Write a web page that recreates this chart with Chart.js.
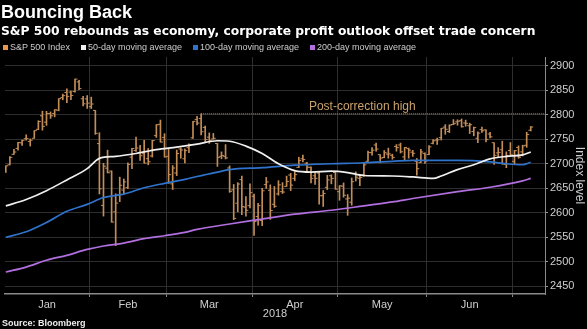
<!DOCTYPE html>
<html>
<head>
<meta charset="utf-8">
<script src="https://cdn.jsdelivr.net/npm/chart.js@4.4.1/dist/chart.umd.min.js"></script>
<style>
  html, body { margin: 0; padding: 0; background: #000; }
  #wrap { position: relative; width: 587px; height: 329px; overflow: hidden; color: #fff;
          font-family: "Liberation Sans", Arial, sans-serif; }
  #chart { position: absolute; left: 0; top: 0; }
  #title { position: absolute; left: 1px; top: 2px; font-size: 18px; font-weight: bold; white-space: nowrap; }
  #sub { position: absolute; left: 1px; top: 24px; font-family: "DejaVu Sans", sans-serif; font-size: 12.3px; font-weight: bold; white-space: nowrap; }
  #legend { position: absolute; left: 3px; top: 42px; display: flex; font-size: 9px; color: #ccc; white-space: nowrap; }
  #legend span.item { display: flex; align-items: center; margin-right: 11px; }
  #legend i { display: inline-block; width: 5px; height: 5px; margin-right: 2px; }
  #source { position: absolute; left: 2px; top: 318px; font-size: 9px; font-weight: bold; color: #eee; }
</style>
</head>
<body>
<div id="wrap">
  <canvas id="chart" width="587" height="329"></canvas>
  <div id="title">Bouncing Back</div>
  <div id="sub">S&amp;P 500 rebounds as economy, corporate profit outlook offset trade concern</div>
  <div id="legend"></div>
  <div id="source">Source: Bloomberg</div>
</div>
<script>
// S&P 500 daily bars, Jan 2 - Jul 9 2018 (one entry per trading day)
const open = [
  2683.7, 2697.9, 2719.3, 2731.3, 2742.7, 2751.2, 2745.6, 2752.0, 2770.2, 2798.0,
  2785.0, 2802.4, 2802.6, 2809.2, 2835.1, 2845.4, 2846.3, 2847.5, 2867.2, 2832.7, 2832.4,
  2816.5, 2808.9, 2741.1, 2614.8, 2691.0, 2685.0, 2601.8, 2636.8, 2646.3, 2651.2,
  2713.5, 2727.1, 2723.0, 2720.5, 2710.4, 2715.8, 2757.4, 2780.5, 2753.8,
  2715.2, 2658.9, 2681.1, 2730.2, 2710.2, 2732.8, 2752.9, 2790.5, 2792.3, 2774.1,
  2754.3, 2750.6, 2741.4, 2715.1, 2715.0, 2691.4, 2646.7, 2619.4, 2667.6, 2611.3, 2614.4,
  2633.5, 2592.2, 2584.0, 2657.4, 2645.8, 2617.2, 2638.4, 2643.0, 2653.8, 2676.9,
  2670.1, 2692.7, 2710.1, 2701.2, 2692.6, 2675.4, 2680.8, 2634.9, 2651.7, 2675.5, 2682.1,
  2643.0, 2654.2, 2628.1, 2621.5, 2680.3, 2670.3, 2678.1, 2705.0, 2722.7, 2738.3, 2718.6,
  2712.6, 2719.7, 2717.4, 2735.4, 2738.3, 2714.0, 2730.9, 2723.6, 2705.1, 2702.4, 2721.0,
  2718.7, 2741.7, 2748.5, 2753.3, 2774.8, 2765.8, 2780.2, 2785.6, 2787.9, 2783.2,
  2777.8, 2765.8, 2752.0, 2769.7, 2769.3, 2760.8, 2742.9, 2722.1, 2728.5, 2698.7, 2727.1,
  2705.0, 2733.3, 2724.2, 2737.7, 2768.5
];
const high = [
  2695.9, 2714.4, 2729.3, 2743.5, 2748.5, 2759.1, 2750.8, 2767.6, 2787.9, 2807.5,
  2807.0, 2805.8, 2810.3, 2833.0, 2842.2, 2853.0, 2848.6, 2872.9, 2870.6, 2837.8, 2839.3,
  2836.0, 2808.9, 2763.4, 2701.0, 2727.7, 2685.3, 2638.7, 2672.6, 2668.8, 2702.1,
  2731.5, 2754.4, 2737.6, 2747.8, 2731.3, 2747.8, 2780.0, 2789.2, 2761.5,
  2730.9, 2696.3, 2728.1, 2732.1, 2730.6, 2740.5, 2786.6, 2797.0, 2801.9, 2777.1,
  2763.0, 2761.9, 2741.4, 2724.2, 2739.1, 2695.7, 2657.7, 2661.4, 2674.8, 2632.7, 2659.1,
  2638.3, 2619.1, 2649.9, 2672.1, 2656.9, 2653.6, 2665.5, 2661.4, 2674.7, 2680.3,
  2686.5, 2713.3, 2717.5, 2702.8, 2693.9, 2682.9, 2683.6, 2645.3, 2676.5, 2677.4, 2682.9,
  2655.3, 2660.9, 2637.1, 2670.9, 2683.4, 2676.3, 2701.3, 2726.1, 2732.9, 2742.1, 2718.6,
  2727.0, 2732.0, 2719.5, 2739.2, 2742.2, 2733.3, 2732.0, 2727.4, 2710.7, 2729.3, 2722.5,
  2736.9, 2749.2, 2752.6, 2772.4, 2779.9, 2779.4, 2790.2, 2789.8, 2791.5, 2789.1,
  2782.8, 2775.0, 2765.1, 2774.9, 2769.3, 2764.2, 2742.9, 2732.9, 2746.1, 2724.3, 2743.3,
  2727.3, 2736.6, 2737.8, 2764.4, 2776.0
];
const low = [
  2682.4, 2697.8, 2719.1, 2727.9, 2737.6, 2747.9, 2736.1, 2752.0, 2769.6, 2768.6,
  2778.4, 2792.6, 2795.8, 2808.1, 2830.6, 2824.8, 2830.9, 2846.2, 2851.5, 2818.3, 2813.0,
  2812.7, 2760.0, 2638.2, 2593.1, 2681.3, 2580.6, 2532.7, 2622.5, 2637.1, 2648.9,
  2689.8, 2725.1, 2706.8, 2701.3, 2697.8, 2713.7, 2753.8, 2744.2, 2713.5,
  2659.7, 2647.3, 2675.8, 2711.3, 2701.7, 2722.7, 2751.5, 2779.3, 2758.7, 2744.4,
  2741.5, 2750.0, 2694.6, 2710.1, 2709.8, 2641.6, 2585.9, 2601.8, 2596.1, 2593.1, 2609.7,
  2553.8, 2574.6, 2573.6, 2649.6, 2586.3, 2610.8, 2635.8, 2639.3, 2653.8, 2645.1,
  2665.2, 2692.1, 2703.6, 2681.9, 2660.6, 2658.0, 2617.3, 2612.7, 2647.2, 2659.0, 2648.0,
  2625.4, 2631.7, 2594.6, 2615.3, 2664.7, 2655.2, 2674.1, 2704.5, 2717.5, 2725.5, 2701.9,
  2712.2, 2711.4, 2709.2, 2725.7, 2721.9, 2707.4, 2711.4, 2715.0, 2676.8, 2702.4, 2700.7,
  2718.7, 2740.5, 2739.5, 2748.5, 2760.2, 2763.6, 2779.9, 2778.8, 2774.7, 2776.5,
  2761.7, 2757.1, 2743.2, 2763.9, 2744.4, 2752.7, 2698.7, 2712.5, 2699.0, 2692.0, 2718.0,
  2699.0, 2711.2, 2716.0, 2733.5, 2767.0
];
const close = [
  2695.8, 2713.1, 2724.0, 2743.2, 2747.7, 2751.3, 2748.2, 2767.6, 2786.2, 2776.4,
  2802.6, 2798.0, 2810.3, 2833.0, 2839.1, 2837.5, 2839.3, 2872.9, 2853.5, 2822.4, 2823.8,
  2822.0, 2762.1, 2648.9, 2695.1, 2681.7, 2581.0, 2619.6, 2656.0, 2662.9, 2698.6,
  2731.2, 2732.2, 2716.3, 2701.3, 2704.0, 2747.3, 2779.6, 2744.3, 2713.8,
  2677.7, 2691.3, 2720.9, 2728.1, 2726.8, 2739.0, 2786.6, 2783.0, 2765.3, 2749.5,
  2747.3, 2752.0, 2712.9, 2716.9, 2711.9, 2643.7, 2588.3, 2658.6, 2612.6, 2605.0, 2640.9,
  2581.9, 2614.5, 2644.7, 2662.8, 2604.5, 2613.2, 2656.9, 2642.2, 2664.0, 2656.3,
  2677.8, 2706.4, 2708.6, 2693.1, 2670.1, 2670.3, 2634.6, 2639.4, 2666.9, 2669.9, 2648.1,
  2654.8, 2635.7, 2629.7, 2663.4, 2672.6, 2671.9, 2697.8, 2723.1, 2727.7, 2730.1, 2711.5,
  2722.5, 2720.1, 2713.0, 2733.0, 2724.4, 2733.3, 2727.8, 2721.3, 2689.9, 2724.0, 2705.3,
  2734.6, 2746.9, 2748.8, 2772.4, 2770.4, 2779.0, 2782.0, 2786.9, 2775.6, 2782.5,
  2779.7, 2773.8, 2762.6, 2767.3, 2749.8, 2754.9, 2717.1, 2723.1, 2699.6, 2716.3, 2718.4,
  2726.7, 2713.2, 2736.6, 2759.8, 2775.0
];

// first trading day (index) of each month shown
const monthNames = ['Jan', 'Feb', 'Mar', 'Apr', 'May', 'Jun', 'Jul'];
const monthStart = [0, 21, 40, 61, 82, 104, 125];

// moving averages at sample trading days
const ma50Days = [0, 5, 10, 15, 20, 23, 27, 32, 37, 42, 47, 52, 55, 59, 63, 67, 71, 75, 80, 84, 88, 95, 100, 105, 107, 111, 115, 119, 123, 127, 129];
const ma50 = [2614, 2627, 2645, 2667, 2690, 2711, 2715, 2721, 2729, 2734, 2740, 2747, 2746, 2736, 2721, 2700, 2686, 2683, 2685, 2682, 2676, 2675, 2673, 2670, 2675, 2688, 2698, 2710, 2715, 2718, 2724];
const ma100Days = [0, 5, 10, 15, 20, 24, 29, 34, 39, 44, 47, 52, 55, 63, 71, 80, 88, 95, 100, 111, 119, 123, 127, 129];
const ma100 = [2550, 2561, 2580, 2603, 2617, 2631, 2638, 2651, 2660, 2668, 2674, 2683, 2688, 2692, 2697, 2700, 2702, 2705, 2707, 2707, 2704, 2700, 2698, 2703];
const ma200Days = [0, 5, 10, 15, 20, 24, 29, 34, 39, 44, 47, 55, 63, 71, 80, 88, 95, 100, 111, 119, 127, 129];
const ma200 = [2479, 2489, 2503, 2513, 2525, 2532, 2538, 2547, 2553, 2560, 2566, 2577, 2587, 2597, 2605, 2614, 2622, 2629, 2643, 2652, 2665, 2670];

const yTicks = [2450, 2500, 2550, 2600, 2650, 2700, 2750, 2800, 2850, 2900];
const highMarkDay = 48;      // Mar 13
const highMark = 2801.9;
const noteText = 'Post-correction high';

const seriesNames = ['S&P 500 Index', '50-day moving average', '100-day moving average', '200-day moving average'];
const seriesColors = ['#e8974f', '#f0f0f0', '#2f73cc', '#b26fe0'];

const barColor = '#c38d58';
const xMin = -0.2, xMax = 132.5;
const font = '"Liberation Sans", Arial, sans-serif';

// legend (html)
const legend = document.getElementById('legend');
seriesNames.forEach((n, i) => {
  legend.insertAdjacentHTML('beforeend',
    `<span class="item"><i style="background:${seriesColors[i]}"></i>${n}</span>`);
});

const days = close.map((_, i) => i);
const boundaries = monthStart.slice(1).map(d => d - 0.5);
const centers = [];
const centerNames = {};
for (let m = 0; m < monthStart.length - 1; m++) {
  const a = m === 0 ? xMin : monthStart[m] - 0.5;
  const b = monthStart[m + 1] - 0.5;
  const c = (a + b) / 2;
  centers.push(c);
  centerNames[c] = monthNames[m];
}
const isBoundary = v => boundaries.includes(v);

const notePlugin = {
  id: 'note',
  afterDatasetsDraw(chart) {
    const { ctx, scales: { x, y } } = chart;
    ctx.save();
    ctx.fillStyle = '#caa26c';
    ctx.font = '12px ' + font;
    ctx.textAlign = 'center';
    ctx.textBaseline = 'alphabetic';
    ctx.fillText(noteText, x.getPixelForValue(87.6), y.getPixelForValue(highMark) - 4);
    ctx.restore();
  }
};

new Chart(document.getElementById('chart'), {
  type: 'line',
  data: {
    datasets: [
      {
        label: seriesNames[1], order: 1,
        data: ma50Days.map((d, i) => ({ x: d, y: ma50[i] })),
        borderColor: seriesColors[1], borderWidth: 1.7, pointRadius: 0,
        cubicInterpolationMode: 'monotone'
      },
      {
        label: seriesNames[2], order: 2,
        data: ma100Days.map((d, i) => ({ x: d, y: ma100[i] })),
        borderColor: seriesColors[2], borderWidth: 1.7, pointRadius: 0,
        cubicInterpolationMode: 'monotone'
      },
      {
        label: seriesNames[3], order: 3,
        data: ma200Days.map((d, i) => ({ x: d, y: ma200[i] })),
        borderColor: seriesColors[3], borderWidth: 1.7, pointRadius: 0,
        cubicInterpolationMode: 'monotone'
      },
      {
        label: 'high', order: 4,
        data: [{ x: highMarkDay, y: highMark }, { x: xMax, y: highMark }],
        borderColor: '#b8915e', borderWidth: 1, borderDash: [1, 1], pointRadius: 0
      },
      {
        type: 'bar', label: seriesNames[0], order: 5,
        data: days.map(i => ({ x: i, y: [low[i], high[i]] })),
        backgroundColor: barColor, barThickness: 1, grouped: false
      },
      {
        label: 'open', order: 6, showLine: false,
        data: days.map(i => ({ x: i - 0.3, y: open[i] })),
        pointStyle: 'line', pointRadius: 1.2, pointBorderWidth: 1,
        pointBorderColor: barColor, borderColor: barColor
      },
      {
        label: 'close', order: 7, showLine: false,
        data: days.map(i => ({ x: i + 0.3, y: close[i] })),
        pointStyle: 'line', pointRadius: 1.2, pointBorderWidth: 1,
        pointBorderColor: barColor, borderColor: barColor
      }
    ]
  },
  options: {
    responsive: false,
    animation: false,
    events: [],
    layout: { padding: { top: 57, left: 0, right: 0, bottom: 8 } },
    plugins: { legend: { display: false }, tooltip: { enabled: false } },
    scales: {
      x: {
        type: 'linear', min: xMin, max: xMax, offset: false,
        afterBuildTicks: s => {
          s.ticks = boundaries.concat(centers).sort((a, b) => a - b).map(v => ({ value: v }));
        },
        afterFit: s => { s.height = 27; },
        grid: {
          offset: false, drawTicks: true, tickLength: 3,
          color: c => (c.tick && isBoundary(c.tick.value)) ? '#2e2e2e' : 'rgba(0,0,0,0)',
          tickColor: c => (c.tick && isBoundary(c.tick.value)) ? '#888' : 'rgba(0,0,0,0)'
        },
        border: { display: true, color: '#8a8a8a', width: 1.5 },
        ticks: {
          autoSkip: false, maxRotation: 0, padding: 1, color: '#cfcfcf',
          font: { size: 11, family: font },
          callback: v => centerNames[v] || ''
        },
        title: { display: true, text: '2018', color: '#cfcfcf', font: { size: 11, family: font }, padding: { top: -2, bottom: 0 } }
      },
      y: {
        type: 'linear', position: 'right', min: 2434, max: 2918,
        afterBuildTicks: s => { s.ticks = yTicks.map(v => ({ value: v })); },
        afterFit: s => { s.width = 42; },
        grid: { color: '#2e2e2e', drawTicks: true, tickLength: 3, tickColor: '#999' },
        border: { display: true, color: '#8a8a8a', width: 1 },
        ticks: { color: '#cfcfcf', padding: 2, font: { size: 11, family: font }, callback: v => String(v) },
        title: { display: true, text: 'Index level', color: '#cfcfcf', font: { size: 12, family: font }, padding: 0 }
      }
    }
  },
  plugins: [notePlugin]
});
</script>
</body>
</html>
